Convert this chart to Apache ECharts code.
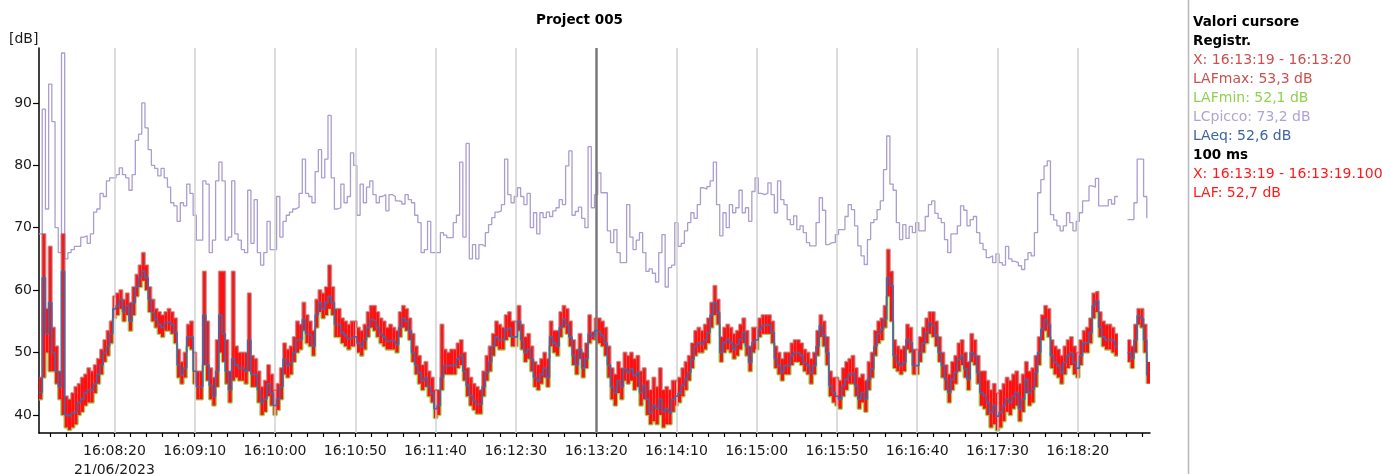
<!DOCTYPE html>
<html>
<head>
<meta charset="utf-8">
<title>Project 005</title>
<script src="https://cdn.jsdelivr.net/npm/echarts@6/dist/echarts.min.js"></script>
<style>
html, body { margin: 0; padding: 0; background: #fff; }
#chart { width: 1382px; height: 474px; }
</style>
</head>
<body>
<div id="chart"></div>
<script>
// start of the record 16:07:33, one value every 2 s
var T0 = 58053;
var STEP = 2;
var T_END = 58745;
var CURSOR = 58400; // 16:13:20

var lcPicco = [
  69, 89, 73, 93, 87, 70, 66, 98, 65, 66, 66.5, 67, 67, 68.5, 68.7, 67.5, 69, 72.5, 73, 75.5, 75, 77.5, 78,
  78, 78.5, 79.6, 78.5, 78, 76, 78.5, 84, 85, 90, 86, 82.5, 80, 79.5, 78.3, 79.5, 78, 76.5, 74, 73.5, 71, 74, 73.5, 77, 75.5,
  72, 68, 68, 77.5, 77, 66, 68, 77.5, 80.5, 77.5, 68, 68.5, 77.5, 69, 68, 66.5, 66, 76, 67.5, 74.5, 66, 64, 66, 71, 66.5,
  66.5, 75, 68.5, 71, 72, 72.5, 73, 73.3, 75.5, 81, 75.5, 75, 74, 79, 82.5, 78, 81, 88, 78, 73, 73.2, 77, 74, 75, 82,
  80, 72, 77, 74, 76.5, 77.5, 75.3, 74, 75, 75.3, 72.7, 75.3, 75, 74.3, 74.2, 73.8, 75.3, 74.5, 74, 72, 70.8, 66, 66.5, 71, 66,
  66, 66, 69.2, 68.8, 68.4, 68.4, 70.8, 72, 80.5, 68.5, 83.5, 65, 67.3, 65, 67.3, 67, 69.2, 70.5, 71.6, 72.5, 72.7, 73.7, 81, 75.3, 74,
  75, 76.4, 75, 73.7, 75.5, 70, 72.4, 69, 72.4, 71.6, 72.5, 71.8, 72.7, 73.2, 74.5, 73.7, 79.9, 82.3, 72, 72.6, 73.3, 71.5, 70, 83, 73.2,
  75.3, 78.8, 75.6, 75.6, 69.5, 67.6, 69.7, 66, 64.4, 64.4, 73.7, 68.5, 66.5, 68, 69.2, 66, 63, 63.4, 62.7, 61.3, 66, 68.9, 60.5, 63.6, 64,
  70.8, 67, 67.5, 69.5, 70.8, 72.4, 71.5, 73.7, 76.4, 76.2, 76.6, 77.5, 80.5, 73.7, 68.7, 72.4, 70, 73.7, 72.4, 73.2, 76, 72.4, 73.2, 71, 75.8,
  78, 75.5, 75.3, 75.5, 77.2, 75.3, 72.4, 77.5, 74.5, 73.7, 71.3, 70.5, 71.9, 69.7, 70.3, 69.2, 67.6, 67.1, 67.1, 70.8, 74.8, 72.8, 67.3, 67.6, 67.6,
  68.9, 69.7, 69.7, 71.8, 73.7, 72.9, 70.3, 67.1, 65.5, 64.1, 68.1, 70.8, 71.3, 72.9, 74.3, 79.3, 84.7, 77, 76, 70.8, 68.1, 70.5, 68.3, 70.2, 69.2,
  70.8, 69.5, 69.5, 71.8, 73.7, 74.3, 72.3, 71.5, 70.8, 68.1, 66, 69, 69, 70.3, 73.5, 72.8, 70.3, 71.3, 71.8, 69.2, 67.5, 66.5, 65.2, 65.5, 64.4,
  65.8, 64.4, 64, 67, 65, 64.6, 64.4, 63.9, 63.3, 64.9, 66, 65.5, 69.2, 75.6, 77.7, 79.9, 80.7, 72.1, 71.2, 70.3, 69.5, 70.3, 72.4, 70.8, 69.5,
  71, 72.4, 74.3, 74.3, 76.7, 76.5, 77.9, 73.5, 73.5, 73.5, 74.5, 73.8, 75, null, null, null, 71.3, 71.3, 74, 81, 81, 75, 71.5
];

var laeq = [
  43.6, 62, 53, 58, 50, 47, 44.5, 63, 40, 39.8, 40.3, 40.5, 42, 42.5, 43.5, 44, 44, 45, 46.5, 48, 50, 51, 53,
  57, 57.5, 58.5, 56.5, 57.5, 55, 58, 60.5, 62, 63, 62, 58.5, 56.4, 55.3, 54.5, 54, 54.8, 55, 54.5, 53.2, 48, 46.5, 47.5, 52.5, 52.5,
  47, 44.5, 44.5, 56, 48, 44.7, 43, 47, 56, 53, 47, 44, 49, 48, 47.5, 47.5, 47, 52, 46.5, 46.5, 44, 42, 42.5, 45, 43.5,
  41.5, 42.5, 44.5, 48.9, 47.9, 48.4, 50, 52, 52.1, 55.3, 53, 52.7, 51, 56, 58, 57, 58, 59, 58, 54.5, 54.5, 53.2, 52.7, 52.2, 52.5,
  52.5, 51.5, 51, 52, 54, 55.3, 55, 54, 53, 52.5, 51.8, 52, 51.8, 51.3, 54, 55.5, 55, 53.5, 50, 48, 46.8, 45.5, 46, 44.5, 43.5,
  41, 41.5, 46, 47.9, 47.9, 47.9, 47.9, 49, 49.5, 47, 44.7, 43.1, 42.3, 41.7, 41.7, 44.5, 46.8, 48.5, 51, 52.5, 52, 52, 53.7, 54, 52.5,
  52.5, 55, 52, 50, 50.5, 48.9, 46, 45.5, 46.5, 47.5, 46, 52.5, 51.5, 51, 54, 55.3, 54.5, 52.5, 49.5, 48, 50.5, 47.5, 49, 53, 52.6,
  53.5, 53.2, 52.7, 51.5, 48, 44.5, 43.6, 45.5, 44.5, 47.4, 46.8, 47.4, 46.3, 46.8, 43.6, 44.7, 42.5, 40.4, 41.5, 41, 42.5, 40.5, 41, 40.4, 42.5,
  43, 43.5, 44.7, 45.7, 46.8, 48.9, 51, 51.5, 51.3, 52, 53.2, 56, 58, 56.4, 50, 51.6, 52.1, 51.6, 50.5, 51.3, 52.1, 53.2, 51, 48.4, 51.6,
  52, 53.7, 54.3, 54.5, 54.3, 53.2, 49, 47.9, 46.8, 47.9, 47.9, 49.5, 50, 50, 49.5, 48.4, 47.9, 46.8, 47.9, 51, 54.3, 52.7, 50, 44.7, 43.6,
  43, 42.5, 44.7, 45.7, 46.5, 46.8, 44.7, 42.5, 43.6, 42.5, 45.7, 47.4, 51, 53, 53.7, 55.3, 62, 60.7, 49.5, 48.4, 47.9, 48.4, 52.1, 51.6, 47.9,
  47.9, 50, 51.5, 53.2, 54.8, 54.3, 52.7, 50, 47.9, 45.7, 43.6, 45.7, 46.8, 48.9, 49.5, 47.4, 45.7, 50, 49.5, 46.8, 43.6, 43.1, 42, 40.4, 41.5,
  39.8, 40.4, 41.5, 42.5, 42, 43, 43.6, 41, 42.5, 45.7, 43.5, 44.1, 46.8, 50, 53.7, 55.3, 54.5, 49.5, 48.4, 47.9, 46.8, 48.4, 49.5, 50, 48.4,
  47.5, 49.5, 51.5, 51.6, 53.2, 57.5, 58.3, 54, 52.5, 52, 52.1, 51.8, 51, null, null, null, 50, 49, 52, 55.9, 55.5, 52, 46.3
];

var lafMax = [
  46, 69, 57, 67, 54, 51, 47, 69, 43, 42.5, 43.5, 44.5, 45, 46, 46.5, 47.5, 47, 48, 49, 50.5, 52, 53.5, 55,
  59, 59.5, 60, 58.5, 59.5, 58, 60.5, 62.5, 64, 66, 64, 60.5, 58.5, 57, 56.5, 56, 56.5, 57, 56.5, 55.5, 50.5, 48.5, 50, 54.5, 55,
  50, 47, 47, 63, 55, 47.5, 46, 52, 63, 63, 52, 47, 63, 51, 50, 50, 50, 59.5, 49.5, 49, 47, 44.5, 45.5, 48, 46.5,
  44, 45, 47.5, 51.5, 50.5, 51, 52.5, 55, 54.5, 58, 56, 55, 53.5, 58.5, 60, 59.5, 60.5, 64, 60.5, 57, 57, 55.5, 55, 54.5, 55,
  55, 54, 53.5, 54.5, 56.5, 57.5, 57.5, 56.5, 55.5, 55, 54, 54.5, 54, 53.5, 56.5, 57.5, 57, 55.5, 53, 51, 49.5, 48, 48.5, 47, 46,
  44, 44, 54.5, 50.5, 50, 50.5, 50.5, 51.5, 52, 50, 47.5, 46, 45, 44.5, 44, 47, 49.5, 51, 53, 55, 54.5, 54, 56, 56.5, 55,
  55, 57.5, 54.5, 52.5, 53, 51, 48.5, 48, 49, 50, 49, 55, 53.5, 53.5, 56.5, 57.5, 57, 55, 52, 50.5, 53, 50, 51.5, 56, 53.3,
  55.5, 55.5, 55, 54, 51, 47.5, 46.5, 48.5, 47.5, 50, 49.5, 50, 49, 49.5, 47, 47.5, 45.5, 44, 46, 44.5, 47.5, 44, 44.5, 44, 45.5,
  45.5, 46, 47.5, 48.5, 49.5, 51.5, 53.5, 54, 53.5, 54.5, 55.5, 58, 60.7, 58.5, 52.5, 54, 54.5, 54, 53, 53.5, 54.5, 55.5, 53.5, 51, 54,
  54, 55.5, 56, 56, 56, 55, 51, 50, 49, 50, 50, 51.5, 52, 52, 51.5, 50.5, 50, 49, 50, 53.5, 56, 55, 52.5, 47, 46,
  46, 45.5, 47.5, 48.5, 49, 49.5, 47.5, 46, 46.5, 45.5, 48.5, 50, 53.5, 55, 55.5, 57.5, 66.5, 63, 52, 51, 50.5, 51, 54.5, 54, 50.5,
  50.5, 52.5, 54, 55.5, 56.5, 56.5, 55, 52.5, 50, 48, 46.5, 48.5, 49.5, 51.5, 52, 50, 48.5, 53, 52, 49.5, 47, 47, 45.5, 44, 45,
  43.5, 44, 45, 46, 45.5, 46.5, 47, 45, 46.5, 48.5, 47, 47.5, 49.5, 52.5, 56, 57.5, 57, 52, 51, 50.5, 49.5, 51, 52, 52.5, 51,
  50, 52, 53.5, 54, 55.5, 59.5, 59.8, 56.5, 55, 54.5, 54.5, 54, 53, null, null, null, 52, 51, 54.5, 57, 57, 54.5, 48.5
];

var lafMin = [
  42.5, 46, 50, 47, 47, 45, 42.5, 40, 38, 37.6, 38, 38.5, 40, 40.5, 41.5, 42, 42, 43.5, 45, 46.5, 48.5, 49.5, 51.5,
  55.5, 56, 57, 55, 56, 53.5, 56, 59, 60.5, 61.5, 60, 56.5, 55, 54, 53, 52.5, 53.5, 53.5, 53, 51.5, 46, 45, 46, 51, 50.5,
  45, 42.5, 42.5, 48, 45.5, 42.5, 41.5, 44.5, 50, 48.5, 45, 42, 45.5, 46, 45.5, 45.5, 45, 47, 44.5, 44.5, 42, 40, 40.5, 43, 41.5,
  40, 40.8, 42.5, 46.5, 46, 46.5, 48.5, 50, 50.5, 53.5, 51.5, 51, 49.5, 54, 56.5, 55.5, 56, 57, 56, 52.5, 52.5, 51.5, 51, 50.5, 51,
  51, 50, 49.5, 50.5, 52.5, 54, 53.5, 52.5, 51.5, 51, 50.5, 50.5, 50.5, 50, 52.5, 54, 53.5, 52, 48.5, 46.5, 45, 44, 44.5, 43, 42,
  39.5, 40, 44, 46.5, 46.5, 46.5, 46.5, 47.5, 48, 45.5, 43, 41.5, 40.8, 40.2, 40.2, 43, 45.5, 47, 49.5, 51, 50.5, 50.5, 52, 52.5, 51,
  51, 53.5, 50.5, 48.5, 49, 47, 44.5, 44, 45, 46, 44.5, 51, 50, 49.5, 52.5, 54, 53, 51, 48, 46.5, 49, 46, 47.5, 51.5, 52.1,
  52, 51.5, 51, 49.5, 46, 42.5, 41.5, 43.5, 42.5, 45.5, 45, 45.5, 44, 44.5, 41.5, 42.5, 40, 38.5, 39, 38.5, 40, 38, 38.5, 38.5, 40.5,
  41.5, 42, 43, 44, 45.5, 47.5, 49.5, 50, 50, 50.5, 51.5, 54, 56, 54.5, 48.5, 50, 50.5, 50, 49, 49.5, 50.5, 51.5, 49.5, 47, 50,
  50.5, 52.5, 53, 53, 53, 51.5, 47.5, 46.5, 45.5, 46.5, 46.5, 48, 48.5, 48.5, 48, 47, 46.5, 45, 46.5, 49.5, 52.5, 51, 48, 43, 42,
  41.5, 41, 43, 44, 45, 45, 43, 41, 42, 40.5, 44, 46, 49.5, 51.5, 52, 54, 59, 55, 47.5, 47, 46.5, 47, 50.5, 50, 46.5,
  46.5, 48.5, 50, 51.5, 53, 52.5, 51, 48.5, 46, 44, 42, 44, 45, 47, 48, 46, 44, 48.5, 48, 45, 41.5, 41, 40, 38, 38.5,
  37.5, 38, 39, 40.5, 40, 41, 41.5, 39, 40.5, 43.5, 41.5, 42, 44.5, 48, 52, 53.5, 52.5, 47.5, 46.5, 46, 45, 46.5, 47.5, 48, 46.5,
  46, 48, 50, 50, 51.5, 55.5, 56.5, 52.5, 51, 50.5, 50.5, 50, 49.5, null, null, null, 48.5, 47.5, 50, 54.5, 54, 50, 45
];

var yTicks = [40, 50, 60, 70, 80, 90];
var dateLabel = '21/06/2023';
var titleText = 'Project 005';
var cursorText = [
  'Valori cursore',
  'Registr.',
  'X: 16:13:19 - 16:13:20',
  'LAFmax: 53,3 dB',
  'LAFmin: 52,1 dB',
  'LCpicco: 73,2 dB',
  'LAeq: 52,6 dB',
  '100 ms',
  'X: 16:13:19 - 16:13:19.100',
  'LAF: 52,7 dB'
];

var FONT = 'DejaVu Sans';
var majorTicks = [], minorTicks = [];
for (var t = 58060; t <= T_END; t += 10) {
  minorTicks.push(t);
  if ((t - 58100) % 50 === 0 && t >= 58100) majorTicks.push(t);
}

function hms(v) {
  var h = Math.floor(v / 3600), m = Math.floor((v % 3600) / 60), s = Math.round(v % 60);
  return h + ':' + (m < 10 ? '0' : '') + m + ':' + (s < 10 ? '0' : '') + s;
}
function pairs(arr) {
  return arr.map(function (v, i) { return [T0 + STEP * i, v]; });
}
var bandData = [];
lafMin.forEach(function (v, i) {
  if (v != null && lafMax[i] != null) bandData.push([T0 + STEP * i, v, lafMax[i]]);
});

var cursorColors = ['#000', '#000', '#cc4f4f', '#cc4f4f', '#8fd24e', '#b0a3d2', '#3e64a0', '#000', '#ff1a1a', '#ff1a1a'];
var cursorBold = [true, true, false, false, false, false, false, true, false, false];

var graphics = [
  { type: 'text', left: 536, top: 13, style: { text: titleText, font: 'bold 13.5px ' + FONT, fill: '#000' } },
  { type: 'text', left: 9, top: 32, style: { text: '[dB]', font: '14px ' + FONT, fill: '#1a1a1a' } },
  { type: 'line', shape: { x1: 1188.5, y1: 0, x2: 1188.5, y2: 474 }, style: { stroke: '#b8b8b8', lineWidth: 1.5 } }
];
cursorText.forEach(function (s, i) {
  graphics.push({
    type: 'text', left: 1193, top: 15 + i * 19,
    style: { text: s, font: (cursorBold[i] ? 'bold 13.5px ' : '14px ') + FONT, fill: cursorColors[i] }
  });
});

var chart = echarts.init(document.getElementById('chart'));
chart.setOption({
  animation: false,
  backgroundColor: '#fff',
  grid: { left: 39, right: 232, top: 48, bottom: 41, containLabel: false, outerBoundsMode: 'none' },
  xAxis: {
    type: 'value', min: T0, max: T_END,
    axisLine: { show: true, lineStyle: { color: '#000', width: 1.5 } },
    axisTick: { show: true, length: 4, customValues: minorTicks, lineStyle: { color: '#000', width: 1.2 } },
    axisLabel: {
      customValues: majorTicks, color: '#1a1a1a', fontSize: 14, fontFamily: FONT, margin: 9, lineHeight: 19,
      formatter: function (v) { return v === majorTicks[0] ? hms(v) + '\n' + dateLabel : hms(v); }
    },
    splitLine: { show: false }
  },
  yAxis: {
    type: 'value', min: 37.1, max: 98.8,
    axisLine: { show: true, lineStyle: { color: '#000', width: 1.5 } },
    axisTick: { show: true, length: 6, customValues: yTicks, lineStyle: { color: '#000', width: 1.2 } },
    axisLabel: { customValues: yTicks, color: '#1a1a1a', fontSize: 14, fontFamily: FONT, margin: 7 },
    splitLine: { show: false }
  },
  graphic: graphics,
  series: [
    {
      type: 'line', data: [], z: 1, silent: true,
      markLine: {
        silent: true, symbol: ['none', 'none'], label: { show: false },
        lineStyle: { color: '#d2d2d2', width: 1.5, type: 'solid' },
        emphasis: { disabled: true },
        data: majorTicks.filter(function (t) { return t !== CURSOR; }).map(function (t) { return { xAxis: t }; })
          .concat([{ xAxis: CURSOR, lineStyle: { color: '#7a7a7a', width: 2.5, type: 'solid' } }])
      }
    },
    {
      name: 'LCpicco', type: 'line', step: 'end', showSymbol: false, symbol: 'none', z: 2,
      data: pairs(lcPicco), lineStyle: { color: '#ab9dcd', width: 1.3 }
    },
    {
      name: 'LAFmin', type: 'line', step: 'end', showSymbol: false, symbol: 'none', z: 3,
      data: pairs(lafMin), lineStyle: { color: '#96d35a', width: 2.5 }
    },
    {
      name: 'LAF', type: 'custom', z: 4, data: bandData,
      encode: { x: 0, y: [1, 2] },
      renderItem: function (params, api) {
        var a = api.coord([api.value(0), api.value(2)]);
        var b = api.coord([api.value(0) + STEP, api.value(1)]);
        return { type: 'rect', shape: { x: a[0], y: a[1], width: b[0] - a[0], height: b[1] - a[1] }, style: { fill: '#ff1010' } };
      }
    },
    {
      name: 'LAFmax', type: 'line', step: 'end', showSymbol: false, symbol: 'none', z: 5,
      data: pairs(lafMax), lineStyle: { color: 'rgba(190,80,80,0.6)', width: 2 }
    },
    {
      name: 'LAeq', type: 'line', step: 'end', showSymbol: false, symbol: 'none', z: 6,
      data: pairs(laeq), lineStyle: { color: '#4b67a6', width: 1.6 }
    }
  ]
});
</script>
</body>
</html>
